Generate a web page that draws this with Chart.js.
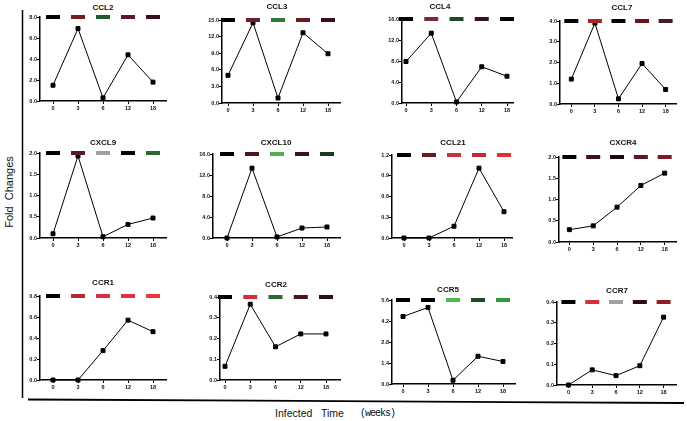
<!DOCTYPE html>
<html>
<head>
<meta charset="utf-8">
<script src="https://cdn.jsdelivr.net/npm/chart.js@4.4.0/dist/chart.umd.min.js"></script>
<style>
  body { margin: 0; background: #fff; }
  #wrap { position: relative; width: 687px; height: 421px; overflow: hidden; font-family: "Liberation Sans", Arial, sans-serif; }
  #wrap canvas, #wrap svg { position: absolute; left: 0; top: 0; }
  .ttl { position: absolute; font-weight: bold; font-size: 8px; transform: translate(-50%, -50%); white-space: nowrap; color: #111; }
  #ylab { position: absolute; left: 9px; top: 192px; font-size: 11px; transform: translate(-50%, -50%) rotate(-90deg); white-space: pre; color: #111; }
  #xlab { position: absolute; left: 275px; top: 413px; font-size: 10.5px; transform: translateY(-50%); white-space: pre; color: #111; }
  #xunit { position: absolute; left: 360px; top: 413px; font-family: "Liberation Mono", monospace; font-size: 10px; letter-spacing: -1px; transform: translateY(-50%); color: #111; }
</style>
</head>
<body>
<div id="wrap">
  <svg width="687" height="421">
    <line x1="22.5" y1="10" x2="22.5" y2="398" stroke="#000" stroke-width="1.5"/>
    <line x1="28" y1="399.5" x2="684" y2="403" stroke="#000" stroke-width="1.8"/>
  </svg>
  <div id="ylab">Fold  Changes</div>
  <div id="xlab">Infected   Time</div>
  <div id="xunit">(weeks)</div>
</div>
<script>
// semanas post-infección (eje x)
const weeks = ['0', '3', '6', '12', '18'];
const genes = ['CCL2', 'CCL3', 'CCL4', 'CCL7', 'CXCL9', 'CXCL10', 'CCL21', 'CXCR4', 'CCR1', 'CCR2', 'CCR5', 'CCR7'];

// fold change por gen
const ccl2   = [1.5, 6.9, 0.3, 4.4, 1.8];
const ccl3   = [5.0, 14.5, 0.9, 12.7, 8.9];
const ccl4   = [7.9, 13.3, 0.2, 6.9, 5.1];
const ccl7   = [1.2, 3.9, 0.25, 1.95, 0.7];
const cxcl9  = [0.1, 1.93, 0.03, 0.32, 0.47];
const cxcl10 = [0, 13.3, 0.2, 1.9, 2.1];
const ccl21  = [0, 0, 0.17, 1.01, 0.38];
const cxcr4  = [0.29, 0.38, 0.82, 1.33, 1.62];
const ccr1   = [0, 0, 0.28, 0.57, 0.46];
const ccr2   = [0.066, 0.365, 0.16, 0.222, 0.222];
const ccr5   = [4.5, 5.1, 0.25, 1.85, 1.5];
const ccr7   = [0, 0.073, 0.045, 0.093, 0.327];
const foldChanges = [ccl2, ccl3, ccl4, ccl7, cxcl9, cxcl10, ccl21, cxcr4, ccr1, ccr2, ccr5, ccr7];

// ticks del eje y
const yTicks = [
  [0, 2, 4, 6, 8],
  [0, 3, 6, 9, 12, 15],
  [0, 4, 8, 12, 16],
  [0, 1, 2, 3, 4],
  [0, 0.5, 1, 1.5, 2],
  [0, 4, 8, 12, 16],
  [0, 0.3, 0.6, 0.9, 1.2],
  [0, 0.5, 1, 1.5, 2],
  [0, 0.2, 0.4, 0.6, 0.8],
  [0, 0.1, 0.2, 0.3, 0.4],
  [0, 1.4, 2.8, 4.2, 5.6],
  [0, 0.1, 0.2, 0.3, 0.4]
];

// colores de la franja superior (heatmap)
const stripColors = [
  ['#000000', '#7a1c26', '#1f5a2c', '#5e1a24', '#3a0f18'],
  ['#000000', '#6a1f2a', '#2e7a3e', '#6a1a20', '#3a1020'],
  ['#000000', '#7a2a32', '#1f4a2a', '#3a1020', '#000000'],
  ['#000000', '#b02428', '#000000', '#6a1418', '#4a1a24'],
  ['#000000', '#5a1a20', '#a0a0a0', '#000000', '#2a6a30'],
  ['#000000', '#4a1a1e', '#4caf50', '#3a1218', '#1a3a1f'],
  ['#000000', '#6a1a1e', '#c8323a', '#c02a32', '#e03438'],
  ['#000000', '#3a1218', '#1a0a0e', '#5a1a22', '#7a1a22'],
  ['#000000', '#b02a30', '#d8303a', '#e0343c', '#e8383e'],
  ['#000000', '#d0303a', '#2a6a30', '#4a1418', '#2a1018'],
  ['#000000', '#000000', '#4cbb50', '#1f4a25', '#2e9a40'],
  ['#000000', '#d83038', '#a0a0a0', '#2a0e14', '#902028']
];

// posición de cada panel en la página (px)
const boxes = [
  { axL: 40,  axR: 166, top: 17,  zero: 101, c0: 53,  c4: 153, tx: 103, ty: 7 },
  { axL: 222, axR: 340, top: 20,  zero: 103, c0: 228, c4: 328, tx: 277, ty: 6 },
  { axL: 402, axR: 513, top: 19,  zero: 103, c0: 406, c4: 507, tx: 440, ty: 6 },
  { axL: 560, axR: 683, top: 21,  zero: 104, c0: 572, c4: 672, tx: 622, ty: 7 },
  { axL: 40,  axR: 166, top: 153, zero: 238, c0: 53,  c4: 153, tx: 103, ty: 142 },
  { axL: 213, axR: 340, top: 154, zero: 238, c0: 227, c4: 327, tx: 276, ty: 142 },
  { axL: 392, axR: 512, top: 155, zero: 238, c0: 404, c4: 504, tx: 453, ty: 142 },
  { axL: 559, axR: 683, top: 157, zero: 242, c0: 570, c4: 671, tx: 623, ty: 142 },
  { axL: 40,  axR: 166, top: 296, zero: 380, c0: 53,  c4: 153, tx: 103, ty: 282 },
  { axL: 220, axR: 340, top: 297, zero: 380, c0: 225, c4: 326, tx: 276, ty: 284 },
  { axL: 392, axR: 515, top: 300, zero: 384, c0: 403, c4: 503, tx: 448, ty: 289 },
  { axL: 557, axR: 682, top: 302, zero: 385, c0: 569, c4: 669, tx: 617, ty: 290 }
];

const W = 687, H = 421;
const YW = 24, XH = 14;
const tickFont = { family: 'Liberation Sans', size: 5.5, weight: 'bold' };
const wrap = document.getElementById('wrap');

genes.forEach((gene, k) => {
  const b = boxes[k];
  const ticks = yTicks[k];
  const yMax = ticks[ticks.length - 1];
  const step = (b.c4 - b.c0) / 4;

  const ttl = document.createElement('div');
  ttl.className = 'ttl';
  ttl.style.left = b.tx + 'px';
  ttl.style.top = b.ty + 'px';
  ttl.textContent = gene;
  wrap.appendChild(ttl);

  const cv = document.createElement('canvas');
  cv.width = W;
  cv.height = H;
  wrap.appendChild(cv);

  new Chart(cv, {
    type: 'line',
    data: {
      datasets: [
        {
          // franja de color arriba
          data: weeks.map((w, i) => ({ x: i, y: yMax })),
          showLine: false,
          pointStyle: 'line',
          pointRadius: 7,
          pointBorderWidth: 4,
          pointBorderColor: stripColors[k],
          clip: false
        },
        {
          data: weeks.map((w, i) => ({ x: i, y: foldChanges[k][i] })),
          borderColor: '#000',
          borderWidth: 1,
          pointStyle: 'rect',
          pointRadius: 2.8,
          pointBackgroundColor: '#000',
          pointBorderColor: '#000',
          pointBorderWidth: 1,
          tension: 0,
          clip: false
        }
      ]
    },
    options: {
      responsive: false,
      animation: false,
      devicePixelRatio: 1,
      layout: { padding: { left: b.axL - YW, right: W - b.axR, top: b.top, bottom: H - b.zero - XH } },
      plugins: { legend: { display: false }, tooltip: { enabled: false } },
      scales: {
        x: {
          type: 'linear',
          min: -(b.c0 - b.axL) / step,
          max: 4 + (b.axR - b.c4) / step,
          afterBuildTicks: s => { s.ticks = weeks.map((w, i) => ({ value: i })); },
          afterFit: s => { s.height = XH; },
          ticks: { callback: v => weeks[v], font: tickFont, color: '#111', padding: 1, maxRotation: 0, autoSkip: false },
          grid: { drawOnChartArea: false, tickLength: 3, color: '#000', lineWidth: 1 },
          border: { color: '#000', width: 1.5 }
        },
        y: {
          min: 0,
          max: yMax,
          afterBuildTicks: s => { s.ticks = ticks.map(v => ({ value: v })); },
          afterFit: s => { s.width = YW; },
          ticks: { callback: v => v.toFixed(1), font: tickFont, color: '#111', padding: 0 },
          grid: { drawOnChartArea: false, tickLength: 3, color: '#000', lineWidth: 1 },
          border: { color: '#000', width: 1.5 }
        }
      }
    }
  });
});
</script>
</body>
</html>
